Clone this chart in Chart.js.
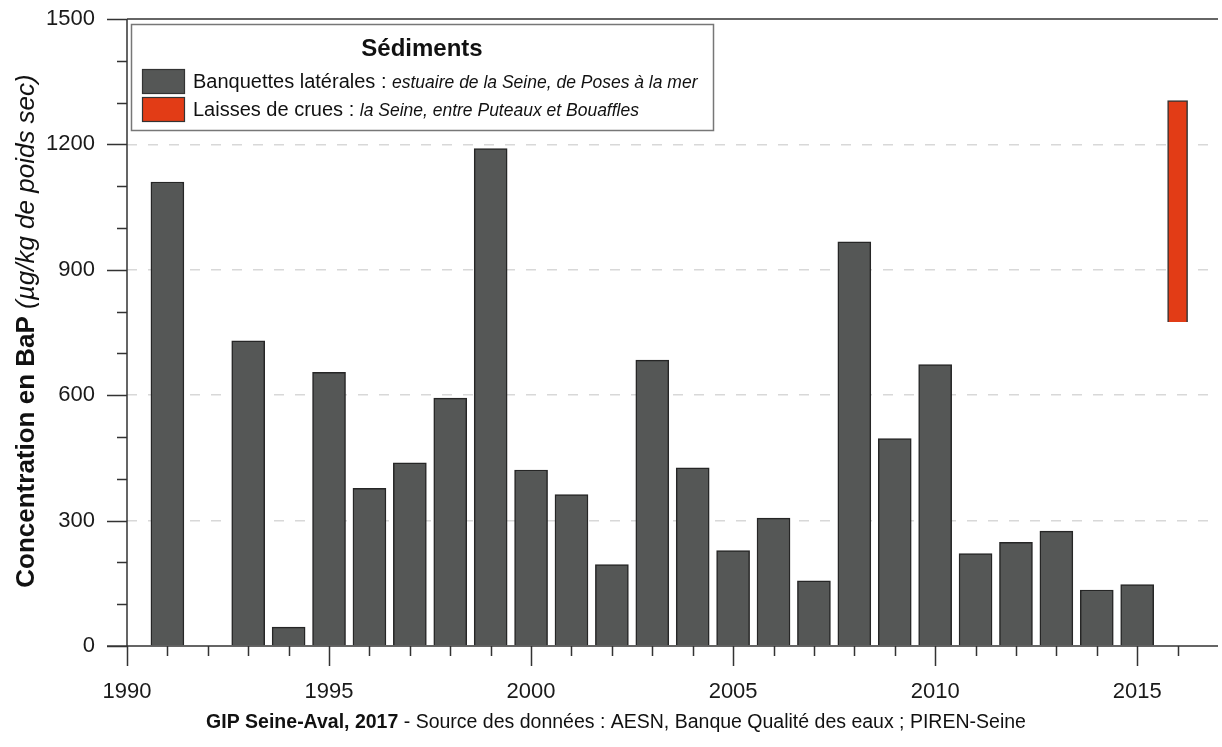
<!DOCTYPE html>
<html>
<head>
<meta charset="utf-8">
<script src="https://cdn.jsdelivr.net/npm/chart.js@4.4.1/dist/chart.umd.min.js"></script>
<style>
  html, body { margin: 0; padding: 0; background: #fff; }
  #wrap { width: 1222px; height: 747px; }
</style>
</head>
<body>
<div id="wrap"><canvas id="chart" width="1222" height="747"></canvas></div>
<script>
// Banquettes latérales (grey bars), one value per year, 1992 missing
const years      = [1991, 1993, 1994, 1995, 1996, 1997, 1998, 1999, 2000, 2001, 2002, 2003, 2004,
                    2005, 2006, 2007, 2008, 2009, 2010, 2011, 2012, 2013, 2014, 2015];
const banquettes = [1110, 730, 45, 655, 377, 438, 593, 1190, 421, 362, 195, 684, 426,
                    228, 306, 156, 967, 496, 673, 221, 248, 275, 134, 147];

// Laisses de crues (red floating bar): min / max
const laissesYears = [2016];
const laissesRange = [[775, 1305]];

const xTickLabels = [1990, 1995, 2000, 2005, 2010, 2015];
const yTickLabels = [0, 300, 600, 900, 1200, 1500];

const FONT = "'Liberation Sans', Arial, sans-serif";
const GREY = '#555756';
const RED = '#e23c16';

// axes, minor ticks, legend box, y title and source line
const decor = {
  id: 'decor',
  afterDatasetsDraw(chart) {
    const { ctx, chartArea: a, scales: { x, y } } = chart;
    ctx.save();

    // top frame line
    ctx.strokeStyle = '#666';
    ctx.lineWidth = 2;
    ctx.beginPath();
    ctx.moveTo(a.left, a.top);
    ctx.lineTo(a.right, a.top);
    ctx.stroke();

    ctx.strokeStyle = '#333';
    ctx.lineWidth = 1.5;
    ctx.beginPath();
    ctx.moveTo(a.left, a.top);
    ctx.lineTo(a.left, a.bottom);
    ctx.moveTo(a.left - 20, a.bottom);
    ctx.lineTo(a.right, a.bottom);
    // y ticks, every 100, long on labelled values
    for (let v = 0; v <= 1500; v += 100) {
      const py = Math.round(y.getPixelForValue(v)) + 0.5;
      const len = v % 300 === 0 ? 20 : 10;
      ctx.moveTo(a.left - len, py);
      ctx.lineTo(a.left, py);
    }
    // x ticks, every year, long every 5
    for (let yr = 1990; yr <= 2016; yr++) {
      const px = Math.round(x.getPixelForValue(yr)) + 0.5;
      const len = yr % 5 === 0 ? 20 : 10;
      ctx.moveTo(px, a.bottom);
      ctx.lineTo(px, a.bottom + len);
    }
    ctx.stroke();

    // legend
    ctx.fillStyle = '#fff';
    ctx.fillRect(131, 24, 582, 106);
    ctx.strokeStyle = '#777';
    ctx.lineWidth = 1.5;
    ctx.strokeRect(131.5, 24.5, 582, 106);

    ctx.fillStyle = '#111';
    ctx.textAlign = 'center';
    ctx.textBaseline = 'middle';
    ctx.font = 'bold 24px ' + FONT;
    ctx.fillText('Sédiments', 422, 49);

    const rows = [
      { color: GREY, label: 'Banquettes latérales : ', note: 'estuaire de la Seine, de Poses à la mer', y: 69 },
      { color: RED,  label: 'Laisses de crues : ',     note: 'la Seine, entre Puteaux et Bouaffles',    y: 97 }
    ];
    ctx.textAlign = 'left';
    ctx.textBaseline = 'alphabetic';
    rows.forEach(r => {
      ctx.fillStyle = r.color;
      ctx.fillRect(142, r.y, 42, 24);
      ctx.strokeStyle = '#333';
      ctx.lineWidth = 1.2;
      ctx.strokeRect(142.5, r.y + 0.5, 42, 24);
      ctx.fillStyle = '#111';
      ctx.font = '20px ' + FONT;
      ctx.fillText(r.label, 193, r.y + 19);
      const w = ctx.measureText(r.label).width;
      ctx.font = 'italic 17.5px ' + FONT;
      ctx.fillText(r.note, 193 + w, r.y + 19);
    });

    // y axis title, mixed bold / italic
    ctx.save();
    ctx.translate(27, 331);
    ctx.rotate(-Math.PI / 2);
    ctx.textBaseline = 'middle';
    ctx.fillStyle = '#111';
    const t1 = 'Concentration en BaP';
    const t2 = ' (µg/kg de poids sec)';
    ctx.font = 'bold 26px ' + FONT;
    const w1 = ctx.measureText(t1).width;
    ctx.font = 'italic 26px ' + FONT;
    const w2 = ctx.measureText(t2).width;
    const start = -(w1 + w2) / 2;
    ctx.font = 'bold 26px ' + FONT;
    ctx.fillText(t1, start, 0);
    ctx.font = 'italic 26px ' + FONT;
    ctx.fillText(t2, start + w1, 0);
    ctx.restore();

    // source line
    const s1 = 'GIP Seine-Aval, 2017';
    const s2 = ' - Source des données : AESN, Banque Qualité des eaux ; PIREN-Seine';
    ctx.textBaseline = 'middle';
    ctx.fillStyle = '#111';
    ctx.font = 'bold 19.5px ' + FONT;
    const sw1 = ctx.measureText(s1).width;
    ctx.font = '19.5px ' + FONT;
    const sw2 = ctx.measureText(s2).width;
    const sx = 616 - (sw1 + sw2) / 2;
    ctx.font = 'bold 19.5px ' + FONT;
    ctx.fillText(s1, sx, 723);
    ctx.font = '19.5px ' + FONT;
    ctx.fillText(s2, sx + sw1, 723);

    ctx.restore();
  }
};

new Chart(document.getElementById('chart'), {
  type: 'bar',
  data: {
    datasets: [
      {
        label: 'Banquettes latérales',
        data: years.map((yr, i) => ({ x: yr, y: banquettes[i] })),
        backgroundColor: GREY,
        borderColor: '#262626',
        borderWidth: 1.5,
        barThickness: 33,
        grouped: false
      },
      {
        label: 'Laisses de crues',
        data: laissesYears.map((yr, i) => ({ x: yr, y: laissesRange[i] })),
        backgroundColor: RED,
        borderColor: '#333',
        borderWidth: 1.5,
        barThickness: 20,
        grouped: false
      }
    ]
  },
  options: {
    responsive: false,
    devicePixelRatio: 1,
    animation: false,
    layout: { padding: { top: 19, right: 4, left: 0, bottom: 0 } },
    plugins: { legend: { display: false }, tooltip: { enabled: false } },
    scales: {
      x: {
        type: 'linear',
        min: 1990,
        max: 2017,
        offset: false,
        afterFit: s => { s.height = 101; s.paddingLeft = 0; s.paddingRight = 0; },
        afterBuildTicks: s => { s.ticks = xTickLabels.map(v => ({ value: v })); },
        grid: { display: false, drawTicks: false, offset: false },
        border: { display: false },
        ticks: {
          padding: 33, color: '#1a1a1a', maxRotation: 0,
          font: { family: FONT, size: 22 },
          callback: v => String(v)
        }
      },
      y: {
        min: 0,
        max: 1500,
        afterFit: s => { s.width = 127; s.paddingTop = 0; s.paddingBottom = 0; },
        afterBuildTicks: s => { s.ticks = yTickLabels.map(v => ({ value: v })); },
        grid: {
          drawTicks: false,
          lineWidth: 1.5,
          color: c => (c.tick.value === 0 || c.tick.value === 1500) ? 'rgba(0,0,0,0)' : '#d8d8d8'
        },
        border: { display: false, dash: [10, 11] },
        ticks: {
          padding: 32, color: '#1a1a1a',
          font: { family: FONT, size: 22 },
          callback: v => String(v)
        }
      }
    }
  },
  plugins: [decor]
});
</script>
</body>
</html>
